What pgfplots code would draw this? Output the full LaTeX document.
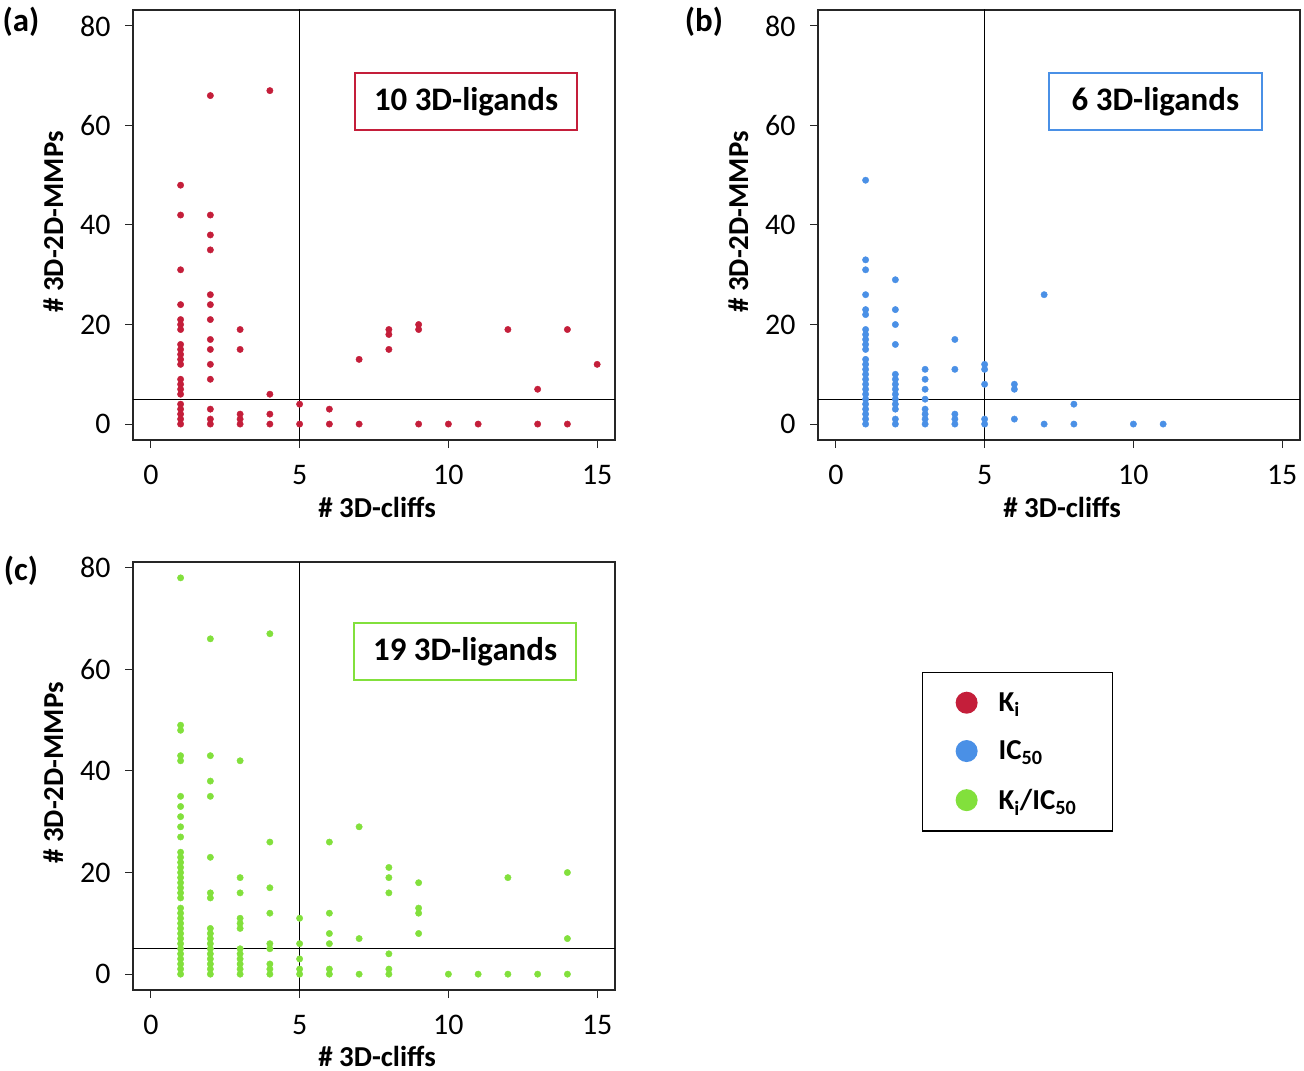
\documentclass[border=0pt]{standalone}
\usepackage{fontspec}
\setmainfont{Carlito}
\usepackage{pgfplots}
\pgfplotsset{compat=1.18}
\definecolor{kired}{RGB}{196,30,58}
\definecolor{icblue}{RGB}{74,144,230}
\definecolor{kigreen}{RGB}{130,224,60}
\pgfplotsset{
  myaxis/.style={
    scale only axis, width=482bp, height=430bp,
    xmin=-0.6, xmax=15.6, ymin=-3.2, ymax=83.2,
    xtick={0,5,10,15}, ytick={0,20,40,60,80},
    axis line style={line width=1.2bp, black!85},
    tick align=outside, tick pos=left,
    major tick length=8bp,
    tick style={line width=1bp, black!85},
    tick label style={font=\fontsize{30}{30}\selectfont},
    /pgf/number format/assume math mode=true,
    yticklabel style={xshift=-11bp},
    xticklabel style={yshift=-14bp},
  },
  pts/.style={only marks, mark=*, mark size=3.2bp, color=#1, mark options={draw=none, fill=#1}},
  refline/.style={black, line width=0.9bp},
}
\newcommand{\lab}{\bfseries\fontsize{29}{29}\selectfont}
\begin{document}
\begin{tikzpicture}
\useasboundingbox (0bp,0bp) rectangle (1304bp,-1071bp);
% ---------------- (a)
\begin{axis}[myaxis, at={(133bp,-440bp)}, anchor=south west]
\addplot[refline] coordinates {(5,-10) (5,100)};
\addplot[refline] coordinates {(-5,5) (20,5)};
\addplot[pts=kired] coordinates {
(1,0)(1,1)(1,2)(1,3)(1,4)(1,6)(1,7)(1,8)(1,9)(1,12)(1,13)(1,14)(1,15)(1,16)(1,19)(1,20)(1,21)(1,24)(1,31)(1,42)(1,48)
(2,0)(2,1)(2,3)(2,9)(2,12)(2,15)(2,17)(2,21)(2,24)(2,26)(2,35)(2,38)(2,42)(2,66)
(3,0)(3,1)(3,2)(3,15)(3,19)
(4,0)(4,2)(4,6)(4,67)
(5,0)(5,4)
(6,0)(6,3)
(7,0)(7,13)
(8,15)(8,18)(8,19)
(9,0)(9,19)(9,20)
(10,0)(11,0)(12,19)(13,0)(13,7)(14,0)(14,19)(15,12)
};
\node[draw=kired, line width=1.5bp, minimum width=222bp, minimum height=57bp, font=\bfseries\fontsize{33}{33}\selectfont] at (axis description cs:0.691,0.787) {\raisebox{-2bp}{10 3D-ligands}};
\end{axis}
% ---------------- (b)
\begin{axis}[myaxis, at={(818bp,-440bp)}, anchor=south west]
\addplot[refline] coordinates {(5,-10) (5,100)};
\addplot[refline] coordinates {(-5,5) (20,5)};
\addplot[pts=icblue] coordinates {
(1,0)(1,1)(1,2)(1,3)(1,4)(1,5)(1,6)(1,7)(1,8)(1,9)(1,10)(1,11)(1,12)(1,13)(1,15)(1,16)(1,17)(1,18)(1,19)(1,22)(1,23)(1,26)(1,31)(1,33)(1,49)
(2,0)(2,1)(2,3)(2,4)(2,5)(2,6)(2,7)(2,8)(2,9)(2,10)(2,16)(2,20)(2,23)(2,29)
(3,0)(3,1)(3,2)(3,3)(3,5)(3,7)(3,9)(3,11)
(4,0)(4,1)(4,2)(4,11)(4,17)
(5,0)(5,1)(5,8)(5,11)(5,12)
(6,1)(6,7)(6,8)
(7,0)(7,26)
(8,0)(8,4)
(10,0)(11,0)
};
\node[draw=icblue, line width=1.5bp, minimum width=213bp, minimum height=57bp, font=\bfseries\fontsize{33}{33}\selectfont] at (axis description cs:0.700,0.787) {\raisebox{-2bp}{6 3D-ligands}};
\end{axis}
% ---------------- (c)
\begin{axis}[myaxis, height=428bp, ymin=-3.12, ymax=81.12, at={(133bp,-990bp)}, anchor=south west,
  legend style={at={(axis description cs:1.637,0.743)}, anchor=north west, draw=black, line width=1.2bp,
    font=\bfseries\fontsize{29}{29}\selectfont, inner xsep=33bp, inner ysep=17bp, row sep=22bp,
    nodes={inner sep=3bp}},
  legend cell align=left,
  legend image code/.code={\fill[#1, draw=none] (11bp,0bp) circle[radius=11bp]; \path[draw=none] (0bp,0bp) -- (40bp,0bp);}]
\addplot[refline, forget plot] coordinates {(5,-10) (5,100)};
\addplot[refline, forget plot] coordinates {(-5,5) (20,5)};
\addplot[pts=kigreen, forget plot] coordinates {
(1,0)(1,1)(1,2)(1,3)(1,4)(1,5)(1,6)(1,7)(1,8)(1,9)(1,10)(1,11)(1,12)(1,13)(1,15)(1,16)(1,17)(1,18)(1,19)(1,20)(1,21)(1,22)(1,23)(1,24)(1,27)(1,29)(1,31)(1,33)(1,35)(1,42)(1,43)(1,48)(1,49)(1,78)
(2,0)(2,1)(2,2)(2,3)(2,4)(2,5)(2,6)(2,7)(2,8)(2,9)(2,15)(2,16)(2,23)(2,35)(2,38)(2,43)(2,66)
(3,0)(3,1)(3,2)(3,3)(3,4)(3,5)(3,9)(3,10)(3,11)(3,16)(3,19)(3,42)
(4,0)(4,1)(4,2)(4,5)(4,6)(4,12)(4,17)(4,26)(4,67)
(5,0)(5,1)(5,3)(5,6)(5,11)
(6,0)(6,1)(6,6)(6,8)(6,12)(6,26)
(7,0)(7,7)(7,29)
(8,0)(8,1)(8,4)(8,16)(8,19)(8,21)
(9,8)(9,12)(9,13)(9,18)
(10,0)(11,0)(12,0)(12,19)(13,0)(14,0)(14,7)(14,20)
};
\addlegendimage{kired}
\addlegendentry{K\textsubscript{i}}
\addlegendimage{icblue}
\addlegendentry{IC\textsubscript{50}}
\addlegendimage{kigreen}
\addlegendentry{K\textsubscript{i}/IC\textsubscript{50}}
\node[draw=kigreen, line width=1.5bp, minimum width=222bp, minimum height=57bp, font=\bfseries\fontsize{33}{33}\selectfont] at (axis description cs:0.689,0.791) {\raisebox{-2bp}{19 3D-ligands}};
\end{axis}
% ---------------- labels
\node[anchor=base, font=\bfseries\fontsize{33}{33}\selectfont] at (21bp,-31bp) {(a)};
\node[anchor=base, font=\bfseries\fontsize{33}{33}\selectfont] at (704bp,-31bp) {(b)};
\node[anchor=base, font=\bfseries\fontsize{33}{33}\selectfont] at (21bp,-580bp) {(c)};
\node[anchor=base, font=\lab] at (377bp,-517bp) {\# 3D-cliffs};
\node[anchor=base, font=\lab] at (1062bp,-517bp) {\# 3D-cliffs};
\node[anchor=base, font=\lab] at (377bp,-1066bp) {\# 3D-cliffs};
\node[anchor=base, rotate=90, font=\lab] at (63bp,-222bp) {\# 3D-2D-MMPs};
\node[anchor=base, rotate=90, font=\lab] at (748bp,-222bp) {\# 3D-2D-MMPs};
\node[anchor=base, rotate=90, font=\lab] at (63bp,-773bp) {\# 3D-2D-MMPs};
\end{tikzpicture}
\end{document}
